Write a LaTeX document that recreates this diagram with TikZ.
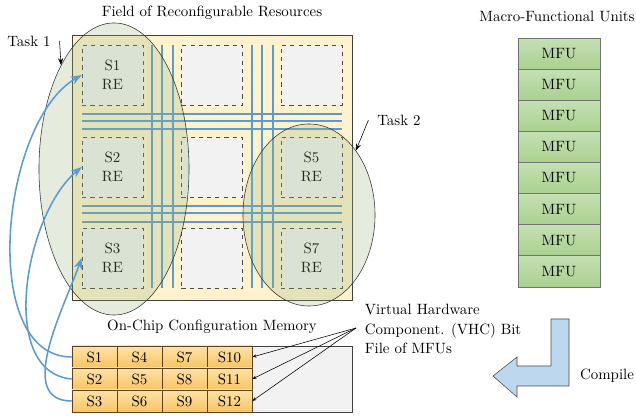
\documentclass[tikz,border=0pt]{standalone}
\usepackage{tikz}
\usetikzlibrary{arrows.meta,shapes.geometric}

\definecolor{fieldyellow}{HTML}{FFF2CC}
\definecolor{cellgrey}{HTML}{F2F2F2}
\definecolor{wireblue}{HTML}{5B9BD5}
\definecolor{taskgreen}{RGB}{150,180,125}
\definecolor{mfugreen}{HTML}{A9D18E}
\definecolor{mfulight}{HTML}{C5E0B4}
\definecolor{memtop}{HTML}{FDE3A7}
\definecolor{membot}{HTML}{F8C462}
\definecolor{compileblue}{HTML}{BDD7EE}

\tikzset{
  every node/.style={font=\fontsize{10.6}{13}\selectfont},
  recell/.style={draw=black!70, dashed, fill=cellgrey, minimum width=1.525cm,
    minimum height=1.5cm, align=center, inner sep=0pt},
  wire/.style={wireblue, line width=1.4pt},
  task/.style={ellipse, draw=black!80, fill=taskgreen, fill opacity=0.25, inner sep=0pt},
  memcell/.style={draw=black!50!brown, top color=memtop, bottom color=membot,
    minimum width=1.125cm, minimum height=0.55cm, inner sep=0pt},
  mfucell/.style={draw=black!55, top color=mfulight, bottom color=mfugreen,
    minimum width=2.05cm, minimum height=0.7775cm, inner sep=0pt},
  link/.style={->, wireblue, line width=1.1pt},
}

\begin{document}
\begin{tikzpicture}[>=Stealth, x=0.025cm, y=0.025cm]
  \useasboundingbox (0,0) rectangle (636,418);

  % field of resources
  \node[draw=black!75, fill=fieldyellow, minimum width=7cm, minimum height=6.625cm,
    inner sep=0pt] (field) at (212,250.5) {};
  \node[recell] (re11) at (112.5,343) {S1\\RE};
  \node[recell] (re12) at (112.5,251) {S2\\RE};
  \node[recell] (re13) at (112.5,160) {S3\\RE};
  \node[recell] (re21) at (212,343) {};
  \node[recell] (re22) at (212,251) {};
  \node[recell] (re23) at (212,160) {};
  \node[recell] (re31) at (311.5,343) {};
  \node[recell] (re32) at (311.5,251) {S5\\RE};
  \node[recell] (re33) at (311.5,160) {S7\\RE};

  \foreach \x in {152,162,173,252,262,273}
    \draw[wire] (\x,373) -- (\x,130);
  \foreach \y in {304,297,289,212,205,196}
    \draw[wire] (82,\y) -- (342,\y);

  \node[task, minimum width=3.75cm, minimum height=7.3cm] (task1) at (114,249) {};
  \node[task, minimum width=3.3cm, minimum height=4.55cm] (task2) at (309,203) {};

  \node (fieldlbl) at (212,405) {Field of Reconfigurable Resources};
  \node (task1lbl) at (29,377) {Task 1};
  \node (task2lbl) at (399,298) {Task 2};
  \draw[->] ([xshift=1mm]task1lbl.east) -- (task1.117);
  \draw[->] ([xshift=-1mm]task2lbl.west) -- (task2.54);

  % configuration memory
  \node (memlbl) at (212,91) {On-Chip Configuration Memory};
  \node[draw=black!75, fill=cellgrey, minimum width=2.5cm, minimum height=1.65cm,
    inner sep=0pt] (spare) at (302,39) {};
  \foreach \c in {0,...,3}
    \foreach \r in {1,2,3} {
      \pgfmathtruncatemacro\n{3*\c+\r}
      \node[memcell] (m\n) at ({94.5+45*\c},{83-22*\r}) {S\n};
    }

  \draw[link] (m1.west) to[out=180, in=210, looseness=0.85] (re11.west);
  \draw[link] (m2.west) to[out=175, in=220, looseness=0.9] (re12.west);
  \draw[link] (m3.west) to[out=180, in=250] (re13.west);

  \node[align=left, anchor=west, font=\fontsize{10.6}{14}\selectfont] (vhc) at (360,89)
    {Virtual Hardware\\Component. (VHC) Bit\\File of MFUs};
  \coordinate (vhcpt) at (356,90);
  \foreach \n in {10,11,12}
    \draw[->, >={Stealth[length=3pt]}] (vhcpt) -- (m\n.east);

  % macro-functional units
  \node (mfulbl) at (557,401) {Macro-Functional Units};
  \foreach \i in {1,...,8}
    \node[mfucell] (mfu\i) at (559,{395.5-31.1*\i}) {MFU};

  \draw[draw=black!70, fill=compileblue] (551,99) -- (569,99) -- (569,32) -- (517,32)
    -- (517,21) -- (493,42) -- (517,61) -- (517,52) -- (551,52) -- cycle;
  \node (compile) at (607,42) {Compile};
\end{tikzpicture}
\end{document}
